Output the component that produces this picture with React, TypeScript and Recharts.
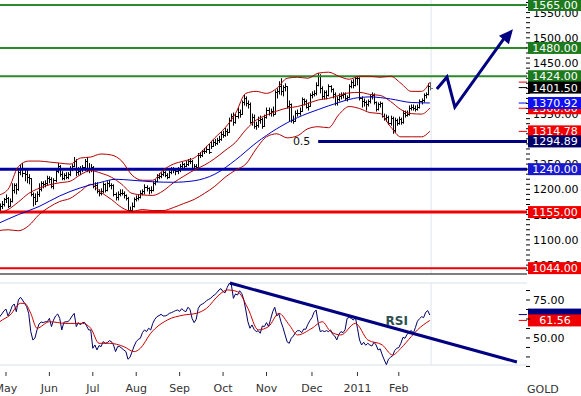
import { ComposedChart, Bar, Line, Scatter, XAxis, YAxis, ReferenceLine, ReferenceDot } from 'recharts'

// Gold daily bars, late Apr 2010 .. 22 Feb 2011, indexed by trading day
const closes = [
  1163, 1168, 1171, 1180, 1182, 1168, 1176, 1198, 1208, 1200,
  1234, 1243, 1232, 1230, 1225, 1222, 1190, 1185, 1177, 1190,
  1200, 1212, 1210, 1213, 1222, 1221, 1206, 1218, 1237, 1246,
  1230, 1222, 1228, 1225, 1230, 1242, 1247, 1256, 1235, 1236,
  1240, 1245, 1256, 1238, 1242, 1245, 1207, 1209, 1196, 1193,
  1196, 1210, 1199, 1213, 1209, 1208, 1190, 1184, 1191, 1193,
  1193, 1188, 1183, 1160, 1159, 1168, 1181, 1183, 1185, 1193,
  1196, 1205, 1202, 1198, 1199, 1213, 1216, 1225, 1226, 1230,
  1234, 1228, 1225, 1234, 1240, 1239, 1236, 1238, 1247, 1250,
  1247, 1250, 1256, 1257, 1243, 1246, 1245, 1268, 1268, 1275,
  1276, 1280, 1274, 1286, 1294, 1292, 1298, 1300, 1310, 1308,
  1316, 1314, 1338, 1346, 1334, 1346, 1354, 1350, 1372, 1380,
  1370, 1368, 1334, 1344, 1326, 1328, 1338, 1340, 1326, 1344,
  1358, 1352, 1356, 1350, 1392, 1394, 1404, 1394, 1402, 1404,
  1366, 1368, 1338, 1336, 1352, 1352, 1356, 1378, 1374, 1364,
  1366, 1386, 1388, 1390, 1406, 1424, 1400, 1384, 1392, 1386,
  1404, 1398, 1388, 1370, 1378, 1384, 1386, 1388, 1380, 1382,
  1404, 1412, 1406, 1420, 1420, 1380, 1374, 1372, 1368, 1374,
  1384, 1386, 1372, 1360, 1368, 1370, 1346, 1342, 1344, 1332,
  1342, 1318, 1338, 1332, 1340, 1334, 1352, 1348, 1350, 1362,
  1364, 1362, 1360, 1364, 1374, 1376, 1386, 1388, 1404, 1401.5,
]
const highs = [
  1172, 1172, 1177, 1183, 1190, 1185, 1182, 1212, 1212, 1212,
  1238, 1248, 1252, 1240, 1238, 1230, 1222, 1194, 1192, 1196,
  1212, 1216, 1216, 1218, 1227, 1226, 1224, 1222, 1242, 1252,
  1248, 1236, 1232, 1234, 1234, 1246, 1250, 1264, 1260, 1244,
  1246, 1248, 1260, 1264, 1252, 1250, 1246, 1214, 1214, 1200,
  1202, 1214, 1212, 1216, 1218, 1212, 1210, 1194, 1196, 1200,
  1200, 1196, 1190, 1185, 1166, 1174, 1184, 1188, 1190, 1198,
  1200, 1210, 1208, 1204, 1206, 1216, 1220, 1230, 1232, 1234,
  1238, 1236, 1232, 1238, 1244, 1244, 1242, 1244, 1250, 1254,
  1252, 1256, 1260, 1262, 1258, 1250, 1250, 1272, 1274, 1278,
  1282, 1286, 1290, 1296, 1298, 1300, 1302, 1306, 1314, 1316,
  1322, 1320, 1342, 1350, 1352, 1350, 1362, 1358, 1376, 1388,
  1384, 1376, 1372, 1350, 1348, 1334, 1344, 1346, 1342, 1348,
  1362, 1362, 1360, 1364, 1396, 1400, 1414, 1420, 1406, 1410,
  1404, 1376, 1370, 1346, 1356, 1358, 1362, 1382, 1380, 1378,
  1372, 1390, 1394, 1396, 1412, 1430, 1428, 1404, 1396, 1396,
  1408, 1406, 1400, 1392, 1384, 1390, 1392, 1392, 1392, 1386,
  1408, 1416, 1418, 1424, 1424, 1422, 1384, 1380, 1376, 1378,
  1388, 1392, 1390, 1374, 1372, 1374, 1372, 1350, 1348, 1346,
  1346, 1344, 1342, 1340, 1344, 1342, 1356, 1356, 1356, 1366,
  1368, 1368, 1366, 1368, 1378, 1380, 1390, 1392, 1410, 1412,
]
const lows = [
  1148, 1157, 1161, 1166, 1173, 1163, 1167, 1174, 1192, 1190,
  1197, 1228, 1224, 1216, 1212, 1210, 1186, 1166, 1169, 1176,
  1185, 1196, 1202, 1204, 1208, 1212, 1202, 1200, 1214, 1232,
  1225, 1218, 1218, 1220, 1220, 1226, 1236, 1244, 1226, 1228,
  1228, 1234, 1236, 1234, 1232, 1234, 1202, 1198, 1192, 1186,
  1188, 1192, 1194, 1196, 1204, 1200, 1186, 1178, 1178, 1186,
  1188, 1182, 1178, 1157, 1155, 1156, 1164, 1176, 1178, 1182,
  1188, 1190, 1196, 1190, 1192, 1196, 1208, 1214, 1220, 1222,
  1226, 1224, 1220, 1222, 1230, 1232, 1228, 1230, 1234, 1242,
  1240, 1244, 1246, 1250, 1240, 1240, 1240, 1244, 1262, 1264,
  1270, 1272, 1270, 1280, 1284, 1286, 1288, 1292, 1296, 1302,
  1304, 1306, 1312, 1334, 1326, 1330, 1340, 1342, 1348, 1366,
  1364, 1360, 1330, 1326, 1320, 1318, 1322, 1330, 1320, 1324,
  1340, 1346, 1344, 1344, 1348, 1380, 1388, 1386, 1384, 1394,
  1360, 1334, 1332, 1330, 1334, 1344, 1346, 1354, 1366, 1360,
  1356, 1364, 1380, 1384, 1386, 1404, 1390, 1378, 1378, 1378,
  1384, 1392, 1380, 1366, 1366, 1374, 1378, 1380, 1376, 1374,
  1380, 1400, 1400, 1404, 1406, 1376, 1362, 1364, 1356, 1364,
  1370, 1378, 1368, 1354, 1356, 1362, 1342, 1336, 1334, 1328,
  1326, 1310, 1312, 1326, 1328, 1328, 1330, 1342, 1344, 1346,
  1356, 1356, 1354, 1356, 1360, 1368, 1372, 1380, 1386, 1396,
]

// Bollinger bands (read every 5 days) and the blue moving average
const bandDays = [0, 5, 10, 15, 20, 25, 30, 35, 40, 45, 50, 55, 60, 65, 70, 75, 80, 85, 90, 95, 100, 105, 110, 115, 120, 125, 130, 135, 140, 145, 150, 155, 160, 165, 170, 175, 180, 185, 190, 195, 200, 205, 209]
const bandUpper = [1188, 1200, 1245, 1256, 1256, 1254, 1252, 1250, 1262, 1264, 1270, 1268, 1256, 1228, 1218, 1218, 1238, 1250, 1256, 1262, 1280, 1302, 1322, 1350, 1390, 1394, 1390, 1400, 1420, 1422, 1420, 1430, 1432, 1424, 1418, 1424, 1424, 1422, 1424, 1410, 1394, 1394, 1412]
const bandMiddle = [1152, 1160, 1175, 1192, 1202, 1209, 1213, 1216, 1229, 1237, 1232, 1224, 1210, 1192, 1189, 1188, 1197, 1213, 1226, 1238, 1248, 1261, 1277, 1293, 1318, 1337, 1347, 1355, 1361, 1364, 1370, 1377, 1380, 1386, 1391, 1392, 1388, 1386, 1374, 1358, 1350, 1349, 1361]
const bandLower = [1118, 1120, 1118, 1128, 1150, 1165, 1176, 1182, 1196, 1210, 1194, 1180, 1164, 1156, 1160, 1158, 1158, 1164, 1172, 1180, 1192, 1206, 1224, 1238, 1250, 1280, 1304, 1310, 1302, 1306, 1320, 1324, 1322, 1348, 1364, 1360, 1352, 1350, 1324, 1304, 1304, 1304, 1315]
const maDays = [0, 10, 20, 30, 40, 50, 57, 65, 75, 85, 95, 105, 115, 125, 135, 145, 155, 165, 172, 180, 190, 200, 209]
const maValues = [1132, 1150, 1166, 1187, 1203, 1214, 1220, 1218, 1215, 1214, 1217, 1230, 1258, 1292, 1320, 1342, 1358, 1372, 1380, 1383, 1379, 1372, 1371]

const rsi = [
  62, 64, 65.8, 67.8, 69, 64.5, 67.3, 71, 72.4, 67.3,
  75, 76.8, 75, 72.8, 70.6, 66.2, 54.2, 48.7, 49.8, 55.3,
  59.2, 60.5, 60.1, 60.7, 60.7, 62.9, 57.5, 61.8, 64.5, 65.8,
  62.9, 55.3, 60.3, 60.7, 60.7, 62.3, 64.5, 66.2, 57.5, 60.1,
  58.6, 60.1, 60.3, 57.9, 55.3, 55.3, 43.2, 45.4, 42.1, 45,
  44.3, 47.6, 46.5, 46.9, 48.2, 47.6, 45.4, 41, 44.3, 44.3,
  43.2, 42.1, 41, 36, 37.3, 41, 44.7, 47.6, 49.1, 49.8,
  53.5, 55.3, 54.2, 56.4, 55.3, 59.6, 62.3, 64, 64.7, 65.6,
  64.5, 64.5, 65.1, 66.2, 66.7, 67.3, 68, 68.4, 67.5, 69.3,
  68, 67.3, 70.2, 68.9, 62.9, 60.1, 62.3, 69.5, 71.7, 72.4,
  73.2, 74.6, 75.4, 76.1, 77.6, 78.5, 79.8, 81.6, 82.5, 80.5,
  79.8, 83.3, 86, 85.1, 76.1, 79, 78.3, 81.1, 79.4, 75.4,
  68.4, 60.7, 56.4, 58.6, 55.7, 54.2, 54.8, 53.1, 57.9, 57.5,
  60.1, 57.5, 62.3, 67.3, 70.2, 64.5, 65.8, 60.7, 56.8, 52,
  47.4, 46.5, 49.8, 51.3, 53.5, 54.8, 54.8, 53.5, 55.9, 55.7,
  59, 61.4, 63.4, 66.9, 68.4, 60.1, 54.2, 54.8, 54.2, 54.8,
  54.2, 55.3, 52.4, 51.3, 48.7, 52.4, 54.2, 53.5, 55.3, 62.9,
  63.6, 62.9, 61.8, 63.6, 56.4, 48.7, 45.4, 47.2, 45.2, 46.5,
  45.4, 44.7, 47.2, 45.4, 42.1, 42.8, 38.8, 35.5, 32.4, 36,
  37.3, 38.2, 41.7, 43.2, 43.7, 46.5, 50.4, 49.8, 52.4, 53.7,
  55, 53.1, 56.8, 61, 62.7, 64, 63.4, 66.9, 68, 65.1,
]
const rsiMaDays = [0, 1, 6, 11, 13, 16, 19, 25, 33, 41, 45, 49, 54, 61, 66, 69, 74, 82, 90, 96, 101, 107, 111, 116, 121, 126, 131, 136, 141, 145, 152, 157, 161, 166, 173, 179, 186, 191, 195, 200, 203, 209]
const rsiMaValues = [59.5, 60.7, 65.1, 72.8, 72.8, 66.2, 56.4, 60.7, 59.6, 59.6, 56.4, 46.5, 46.5, 44.3, 41, 43.2, 53.1, 61.8, 65.1, 66.2, 69.5, 78.3, 81.6, 80.5, 69.5, 55.3, 57.5, 66.2, 58.6, 52, 56.4, 60.7, 54.2, 52, 59.6, 48.7, 45.4, 38.8, 43.2, 50.9, 55.3, 61.56]

const monthTicks = [4, 25, 46, 67, 88, 109, 130, 152, 174, 194]
const monthLabels = ['May', 'Jun', 'Jul', 'Aug', 'Sep', 'Oct', 'Nov', 'Dec', '2011', 'Feb']
const priceLabels = [1050, 1100, 1150, 1200, 1250, 1300, 1350, 1400, 1450, 1500, 1550]
const rsiLabels = [50, 75]
const rsiTicks = [31.25, 37.5, 43.75, 50, 56.25, 62.5, 68.75, 75, 81.25]

const greenLevels = [1565, 1480, 1424]
const redLevels = [1155, 1044]
const blueLevel = 1240
const fibLevel = 1294.89
const fibFrom = 155
const lastClose = 1401.5
const lastMa = 1370.92
const lastUpper = 1412.3
const lastMiddle = 1360.6
const lastLower = 1314.78
const lastRsi = 65.4
const lastRsiMa = 61.56

// drawn trend lines, [day, value] pairs
const upperChannel = [[1.1, 1307.6], [251.6, 1537.3]]
const lowerChannel = [[1.1, 1099.7], [251.1, 1323.4]]
const forecastPath = [[212.4, 1398.7], [217.3, 1422.4], [221.1, 1363], [245.1, 1499.7]]
const forecastTip = [249.2, 1516.9]
const rsiTrend = [[112.3, 86.2], [251.1, 34.2]]

const xDomain = [1.11, 256]
const priceDomain = [1032.4, 1574.9]
const rsiDomain = [32.2, 86.2]
const lastDay = 209.6
const markFrom = 252
const markTo = 256

const priceTicks: number[] = []
for (let v = 1040; v <= 1570; v += 10) priceTicks.push(v)

const priceRows: any[] = closes.map((c, i) => ({
  i, close: c, open: i ? closes[i - 1] : c, high: highs[i], low: lows[i], hl: [lows[i], highs[i]],
}))
bandDays.forEach((d, k) => {
  priceRows[d].upper = bandUpper[k]
  priceRows[d].middle = bandMiddle[k]
  priceRows[d].lower = bandLower[k]
})
maDays.forEach((d, k) => { priceRows[d].ma = maValues[k] })

const rsiRows: any[] = rsi.map((r, i) => ({ i, rsi: r }))
rsiMaDays.forEach((d, k) => { rsiRows[d].rsiMa = rsiMaValues[k] })

const NAVY = '#000080'
const GREEN_LINE = '#2b8a2b'
const GREEN_BOX = '#1e7a1e'
const RED = '#f00000'
const BAND = '#b40000'

// price-pane value boxes on the right, in drawing order (later ones on top)
const priceBoxes = [
  { v: lastUpper, fill: RED },
  { v: lastMiddle, fill: RED },
  ...greenLevels.map((v) => ({ v, fill: GREEN_BOX })),
  { v: blueLevel, fill: '#1a1acc' },
  ...redLevels.map((v) => ({ v, fill: RED })),
  { v: lastLower, fill: RED },
  { v: fibLevel, fill: '#000066' },
  { v: lastClose, fill: '#000' },
  { v: lastMa, fill: '#1010f0' },
]

function OhlcBar(p: any) {
  const { x, y, width, height, payload } = p
  if (height == null || !payload) return <g />
  const top = Math.min(y, y + height)
  const h = Math.abs(height)
  const cx = Math.round(x + width / 2) + 0.5
  const k = h / (payload.high - payload.low || 1)
  const yo = Math.round(top + (payload.high - payload.open) * k) + 0.5
  const yc = Math.round(top + (payload.high - payload.close) * k) + 0.5
  return (
    <g stroke="#000" strokeWidth={1}>
      <line x1={cx} x2={cx} y1={top} y2={top + h} />
      <line x1={cx - 2} x2={cx} y1={yo} y2={yo} />
      <line x1={cx} x2={cx + 2} y1={yc} y2={yc} />
    </g>
  )
}

const boxLabel = (text: string, fill: string) => (p: any) => {
  const vb = p.viewBox
  if (!vb) return null
  const x = 528
  const y = vb.y
  return (
    <g>
      <rect x={x} y={y - 6} width={54} height={12} fill={fill} />
      <text x={x + 27} y={y + 4} textAnchor="middle" fontSize={11} fill="#fff">{text}</text>
    </g>
  )
}

const axisTick = (labels: number[]) => (p: any) => {
  const v = p.payload.value
  return (
    <g>
      <line x1={p.x - 1} x2={p.x + 3} y1={p.y} y2={p.y} stroke="#000" />
      {labels.includes(v) && (
        <text x={p.x + 6} y={p.y + 4} fontSize={11} fill="#000">{v.toFixed(2)}</text>
      )}
    </g>
  )
}

const monthTick = (p: any) => {
  const label = monthLabels[monthTicks.indexOf(p.payload.value)]
  return (
    <g>
      <line x1={p.x} x2={p.x} y1={p.y + 7} y2={p.y + 11} stroke="#333" />
      <text x={p.x} y={p.y + 27} textAnchor="middle" fontSize={11} fill="#333">{label}</text>
    </g>
  )
}

const plainText = (text: string, size: number, fill: string, weight = 'normal') => (p: any) => {
  const vb = p.viewBox
  if (!vb) return null
  return (
    <text x={vb.x + vb.width / 2} y={vb.y + vb.height / 2 + size * 0.36} textAnchor="middle"
      fontSize={size} fontWeight={weight} fill={fill}>{text}</text>
  )
}

const seg = (pts: number[][]) => pts.map(([x, y]) => ({ x, y }))

export default function App() {
  return (
    <div style={{ position: 'fixed', left: 0, top: 0, width: 581, height: 396, background: '#fff', fontFamily: '"DejaVu Sans", Verdana, sans-serif', overflow: 'hidden' }}>
      <div style={{ position: 'absolute', left: 0, top: 0 }}>
        <ComposedChart width={581} height={275} data={priceRows} margin={{ top: 0, right: 0, bottom: 0, left: 0 }}>
          <YAxis orientation="right" width={54} type="number" domain={priceDomain} allowDataOverflow
            ticks={priceTicks} interval={0} tick={axisTick(priceLabels)} tickLine={false} axisLine={false}
            tickSize={0} tickMargin={0} />
          <XAxis dataKey="i" type="number" domain={xDomain} allowDataOverflow ticks={monthTicks}
            tick={false} tickLine={false} height={1} axisLine={{ stroke: '#000' }} />
          <ReferenceLine x={lastDay} stroke="#dce5ee" />

          <ReferenceLine segment={seg([[markFrom, lastUpper], [markTo, lastUpper]])} stroke={RED} />
          <ReferenceLine segment={seg([[markFrom, lastMiddle], [markTo, lastMiddle]])} stroke={RED} />
          {greenLevels.map((v) => (
            <ReferenceLine key={v} y={v} stroke={GREEN_LINE} strokeWidth={2} />
          ))}
          <ReferenceLine y={blueLevel} stroke="#0000a0" strokeWidth={3} />
          {redLevels.map((v, k) => (
            <ReferenceLine key={v} y={v} stroke={RED} strokeWidth={k === 0 ? 3 : 2} />
          ))}

          <Bar dataKey="hl" barSize={2} shape={OhlcBar} isAnimationActive={false} />

          <Line dataKey="upper" type="monotone" stroke={BAND} strokeWidth={1} dot={false} connectNulls isAnimationActive={false} />
          <Line dataKey="middle" type="monotone" stroke={BAND} strokeWidth={1} dot={false} connectNulls isAnimationActive={false} />
          <Line dataKey="lower" type="monotone" stroke={BAND} strokeWidth={1} dot={false} connectNulls isAnimationActive={false} />
          <Line dataKey="ma" type="monotone" stroke="#0000c8" strokeWidth={1} dot={false} connectNulls isAnimationActive={false} />

          <ReferenceLine segment={seg([[markFrom, lastLower], [markTo, lastLower]])} stroke={RED} />
          <ReferenceLine segment={seg([[fibFrom, fibLevel], [markTo, fibLevel]])} stroke={NAVY} strokeWidth={3} />
          <ReferenceDot x={147} y={fibLevel} r={0} fill="none" stroke="none" label={plainText('0.5', 11, '#111')} />
          <ReferenceLine segment={seg([[markFrom, lastClose], [markTo, lastClose]])} stroke="#000" />
          <ReferenceLine segment={seg([[markFrom, lastMa], [markTo, lastMa]])} stroke="#0000ff" />

          <ReferenceLine segment={seg(upperChannel)} stroke={NAVY} strokeWidth={3} />
          <ReferenceLine segment={seg(lowerChannel)} stroke={NAVY} strokeWidth={3} />

          <Scatter data={forecastPath.map(([i, v]) => ({ i, v }))} dataKey="v" isAnimationActive={false}
            line={{ stroke: NAVY, strokeWidth: 3 }} shape={() => <g />} />
          <Scatter data={[{ i: forecastTip[0], v: forecastTip[1] }]} dataKey="v" isAnimationActive={false}
            shape={(p: any) => (
              <polygon points="0,0 -14,-6.5 -14,6.5" fill={NAVY}
                transform={`translate(${p.cx},${p.cy}) rotate(-50)`} />
            )} />
        </ComposedChart>
      </div>

      {/* value boxes drawn over the axis labels */}
      <div style={{ position: 'absolute', left: 0, top: 0, pointerEvents: 'none' }}>
        <ComposedChart width={581} height={275} data={priceRows} margin={{ top: 0, right: 0, bottom: 0, left: 0 }}>
          <YAxis orientation="right" width={54} type="number" domain={priceDomain} allowDataOverflow
            tick={false} tickLine={false} axisLine={false} />
          <XAxis dataKey="i" type="number" domain={xDomain} allowDataOverflow
            tick={false} tickLine={false} height={1} axisLine={false} />
          {priceBoxes.map((b) => (
            <ReferenceLine key={b.v} segment={seg([[markFrom, b.v], [markTo, b.v]])}
              stroke="none" label={boxLabel(b.v.toFixed(2), b.fill)} />
          ))}
        </ComposedChart>
      </div>

      <div style={{ position: 'absolute', left: 0, top: 275 }}>
        <ComposedChart width={581} height={121} data={rsiRows} margin={{ top: 8, right: 0, bottom: 0, left: 0 }}>
          <YAxis orientation="right" width={54} type="number" domain={rsiDomain} allowDataOverflow
            ticks={rsiTicks} interval={0} tick={axisTick(rsiLabels)} tickLine={false} axisLine={false}
            tickSize={0} tickMargin={0} />
          <XAxis dataKey="i" type="number" domain={xDomain} allowDataOverflow ticks={monthTicks} interval={0}
            tick={monthTick} tickLine={false} axisLine={false} tickSize={0} tickMargin={0} height={31} />
          <ReferenceLine y={rsiDomain[1]} stroke="#d8e2ea" />
          <ReferenceLine y={rsiDomain[0]} stroke="#d8e2ea" />
          <ReferenceLine x={lastDay} stroke="#dce5ee" />

          <Line dataKey="rsi" type="linear" stroke="#000066" strokeWidth={1} dot={false} isAnimationActive={false} />
          <Line dataKey="rsiMa" type="monotone" stroke="#cc0000" strokeWidth={1} dot={false} connectNulls isAnimationActive={false} />

          <ReferenceLine segment={seg(rsiTrend)} stroke={NAVY} strokeWidth={3} />
          <ReferenceDot x={193} y={61.4} r={0} fill="none" stroke="none" label={plainText('RSI', 12, '#2f4f4f', 'bold')} />

          <ReferenceLine segment={seg([[markFrom, lastRsi], [markTo, lastRsi]])} stroke={NAVY}
            label={boxLabel('', NAVY)} />
          <ReferenceLine segment={seg([[markFrom, lastRsiMa], [markTo, lastRsiMa]])} stroke={RED}
            label={boxLabel(lastRsiMa.toFixed(2), RED)} />
        </ComposedChart>
      </div>

      <div style={{ position: 'absolute', left: 527, top: 383, fontSize: 11, color: '#333', lineHeight: '13px' }}>GOLD</div>
    </div>
  )
}
